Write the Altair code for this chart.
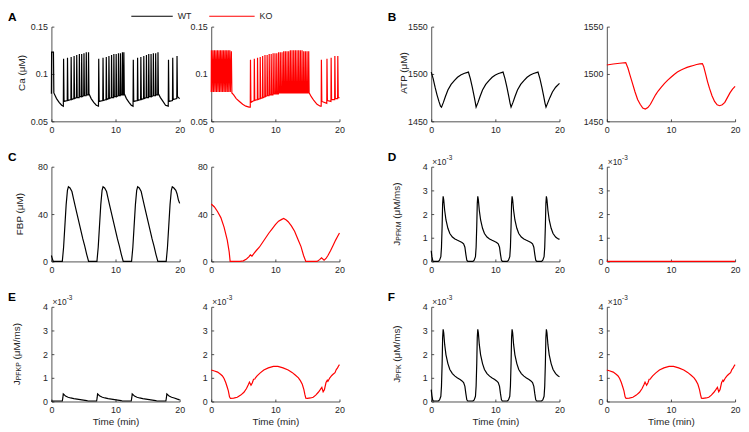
import altair as alt
import pandas as pd

# ---------------- data ----------------
time_ticks = [0, 10, 20]
ca_ticks = [0.05, 0.1, 0.15]
atp_ticks = [1450, 1500, 1550]
fbp_ticks = [0, 40, 80]
j_ticks = [0, 1, 2, 3, 4]

ca_wt = [
    (0.00, 0.079), (0.03, 0.123), (0.32, 0.123), (0.38, 0.080),
    (0.80, 0.074), (1.20, 0.070), (1.60, 0.067), (1.86, 0.066),
    (1.90, 0.116), (1.97, 0.071), (2.47, 0.072),
    (2.51, 0.117), (2.58, 0.072), (3.04, 0.073),
    (3.08, 0.118), (3.15, 0.073), (3.50, 0.074),
    (3.54, 0.119), (3.61, 0.074), (3.91, 0.075),
    (3.95, 0.120), (4.02, 0.075), (4.32, 0.075),
    (4.36, 0.121), (4.43, 0.076), (4.68, 0.076),
    (4.72, 0.121), (4.79, 0.076), (5.04, 0.077),
    (5.08, 0.122), (5.15, 0.077), (5.40, 0.077),
    (5.44, 0.123), (5.51, 0.078), (5.75, 0.078),
    (5.79, 0.123), (5.86, 0.079),
    (6.20, 0.074), (6.60, 0.070), (7.00, 0.067), (7.34, 0.066),
    (7.38, 0.116), (7.45, 0.071), (8.01, 0.072),
    (8.05, 0.117), (8.12, 0.072), (8.52, 0.073),
    (8.56, 0.118), (8.63, 0.073), (8.93, 0.074),
    (8.97, 0.119), (9.04, 0.074), (9.34, 0.075),
    (9.38, 0.120), (9.45, 0.075), (9.70, 0.075),
    (9.74, 0.121), (9.81, 0.076), (10.06, 0.076),
    (10.10, 0.121), (10.17, 0.076), (10.42, 0.077),
    (10.46, 0.122), (10.53, 0.077), (10.73, 0.077),
    (10.77, 0.122), (10.84, 0.078), (11.04, 0.078),
    (11.08, 0.123), (11.15, 0.078), (11.26, 0.078),
    (11.30, 0.123), (11.37, 0.079),
    (11.70, 0.074), (12.10, 0.070), (12.45, 0.067), (12.73, 0.066),
    (12.77, 0.115), (12.84, 0.071), (13.40, 0.072),
    (13.44, 0.117), (13.51, 0.072), (13.91, 0.073),
    (13.95, 0.118), (14.02, 0.073), (14.37, 0.074),
    (14.41, 0.119), (14.48, 0.074), (14.78, 0.075),
    (14.82, 0.120), (14.89, 0.075), (15.14, 0.075),
    (15.18, 0.121), (15.25, 0.076), (15.50, 0.076),
    (15.54, 0.121), (15.61, 0.076), (15.86, 0.077),
    (15.90, 0.122), (15.97, 0.077), (16.22, 0.077),
    (16.26, 0.122), (16.33, 0.078), (16.58, 0.078),
    (16.62, 0.123), (16.69, 0.079),
    (17.00, 0.075), (17.40, 0.071), (17.80, 0.067), (18.22, 0.066),
    (18.26, 0.115), (18.33, 0.071), (18.88, 0.072),
    (18.92, 0.117), (18.99, 0.073), (19.55, 0.074),
    (19.59, 0.119), (19.66, 0.076), (20.00, 0.074),
]

ca_ko = [
    (0.00, 0.081), (0.02, 0.125), (0.10, 0.081),
    (0.26, 0.125), (0.34, 0.081), (0.50, 0.125), (0.58, 0.081),
    (0.74, 0.125), (0.82, 0.081), (0.98, 0.125), (1.06, 0.081),
    (1.22, 0.125), (1.30, 0.081), (1.46, 0.125), (1.54, 0.081),
    (1.70, 0.125), (1.78, 0.081), (1.94, 0.125), (2.02, 0.081),
    (2.18, 0.125), (2.26, 0.081), (2.42, 0.125), (2.50, 0.081),
    (2.66, 0.125), (2.74, 0.081), (2.90, 0.125), (2.98, 0.081),
    (3.14, 0.124), (3.22, 0.080),
    (3.50, 0.078), (3.90, 0.074), (4.40, 0.071), (4.90, 0.068),
    (5.40, 0.066), (5.90, 0.065), (6.09, 0.065),
    (6.12, 0.115), (6.19, 0.070), (6.69, 0.072),
    (6.72, 0.116), (6.79, 0.072), (7.19, 0.073),
    (7.22, 0.117), (7.29, 0.073), (7.61, 0.074),
    (7.64, 0.118), (7.71, 0.074), (7.99, 0.075),
    (8.02, 0.119), (8.09, 0.075), (8.35, 0.076),
    (8.38, 0.120), (8.45, 0.076), (8.69, 0.077),
    (8.72, 0.120), (8.79, 0.077), (9.01, 0.077),
    (9.04, 0.121), (9.11, 0.078), (9.32, 0.078),
    (9.35, 0.121), (9.42, 0.078), (9.62, 0.078),
    (9.65, 0.122), (9.72, 0.079), (9.91, 0.079),
    (9.94, 0.122), (10.01, 0.079), (10.19, 0.079),
    (10.22, 0.122), (10.29, 0.079), (10.47, 0.079),
    (10.50, 0.123), (10.57, 0.080), (10.74, 0.080),
    (10.77, 0.123), (10.84, 0.080), (11.01, 0.080),
    (11.04, 0.123), (11.11, 0.080), (11.27, 0.080),
    (11.30, 0.124), (11.37, 0.080), (11.53, 0.080),
    (11.56, 0.124), (11.63, 0.080), (11.79, 0.080),
    (11.82, 0.124), (11.89, 0.080), (12.05, 0.080),
    (12.08, 0.124), (12.15, 0.080), (12.31, 0.080),
    (12.34, 0.125), (12.41, 0.080), (12.57, 0.080),
    (12.60, 0.125), (12.67, 0.080), (12.83, 0.080),
    (12.86, 0.125), (12.93, 0.080), (13.09, 0.080),
    (13.12, 0.125), (13.19, 0.080), (13.35, 0.080),
    (13.38, 0.125), (13.45, 0.080), (13.61, 0.080),
    (13.64, 0.125), (13.71, 0.080), (13.87, 0.080),
    (13.90, 0.125), (13.97, 0.080), (14.13, 0.080),
    (14.16, 0.125), (14.23, 0.080), (14.39, 0.080),
    (14.42, 0.124), (14.49, 0.080), (14.65, 0.080),
    (14.68, 0.124), (14.75, 0.080), (14.91, 0.080),
    (14.94, 0.124), (15.01, 0.080), (15.17, 0.080),
    (15.20, 0.124), (15.27, 0.080),
    (15.60, 0.076), (16.00, 0.072), (16.50, 0.068), (17.00, 0.066), (17.15, 0.066),
    (17.18, 0.115), (17.25, 0.071), (18.02, 0.069),
    (18.05, 0.116), (18.12, 0.072), (18.67, 0.071),
    (18.70, 0.117), (18.77, 0.073), (19.25, 0.073),
    (19.28, 0.119), (19.35, 0.074), (19.71, 0.074),
    (19.74, 0.119), (19.81, 0.075), (20.00, 0.075),
]

atp_wt = [
    (0.0, 1502), (0.3, 1495), (0.6, 1486), (0.9, 1478), (1.2, 1471), (1.45, 1466), (1.6, 1465),
    (1.9, 1470), (2.2, 1476), (2.6, 1483), (3.1, 1489), (3.6, 1493), (4.1, 1496.5),
    (4.6, 1499), (5.1, 1500.5), (5.8, 1502),
    (6.1, 1495), (6.4, 1486), (6.7, 1476), (6.9, 1469), (7.0, 1465),
    (7.3, 1470), (7.6, 1476), (8.0, 1483), (8.5, 1489), (9.0, 1493), (9.5, 1496.5),
    (10.0, 1499), (10.5, 1500.5), (11.2, 1502),
    (11.5, 1495), (11.8, 1486), (12.1, 1476), (12.3, 1469), (12.45, 1465),
    (12.75, 1470), (13.05, 1476), (13.45, 1483), (13.95, 1489), (14.45, 1493), (14.95, 1496.5),
    (15.45, 1499), (15.95, 1500.5), (16.65, 1502),
    (16.95, 1495), (17.25, 1486), (17.55, 1476), (17.75, 1469), (17.9, 1465),
    (18.2, 1470), (18.5, 1475), (18.9, 1481), (19.4, 1486), (20.0, 1490),
]

atp_ko = [
    (0.0, 1509.5), (1.0, 1510.5), (2.0, 1511.3), (2.95, 1512), (3.1, 1509.5), (3.3, 1506),
    (3.6, 1499), (4.0, 1490), (4.4, 1481), (4.8, 1473), (5.2, 1468), (5.6, 1464),
    (6.0, 1463), (6.4, 1464.5), (6.8, 1468), (7.2, 1473), (7.6, 1478), (8.0, 1482),
    (8.5, 1486), (9.0, 1490), (9.5, 1493.5), (10.0, 1496.5), (10.5, 1499.5), (11.0, 1502),
    (11.5, 1504), (12.0, 1505.5), (12.5, 1507), (13.0, 1508), (13.5, 1509), (14.0, 1510),
    (14.5, 1510.7), (14.9, 1511), (15.1, 1508), (15.4, 1500), (15.7, 1492), (16.0, 1485),
    (16.4, 1477), (16.8, 1471), (17.2, 1467.5), (17.6, 1466.5), (18.0, 1467.5), (18.4, 1470),
    (18.8, 1475), (19.2, 1480), (19.6, 1484), (20.0, 1487),
]

fbp_wt = [
    (0.0, 5), (0.15, 2), (0.3, 0), (1.7, 0), (1.9, 12), (2.1, 30), (2.3, 48), (2.5, 60),
    (2.65, 63), (2.9, 62), (3.2, 59), (3.4, 54), (3.7, 47), (4.0, 40), (4.3, 33), (4.6, 26),
    (4.9, 19), (5.2, 13), (5.5, 6), (5.8, 0),
    (7.1, 0), (7.3, 12), (7.5, 30), (7.7, 48), (7.9, 60), (8.05, 63), (8.3, 62), (8.6, 59),
    (8.8, 54), (9.1, 47), (9.4, 40), (9.7, 33), (10.0, 26), (10.3, 19), (10.6, 13), (10.9, 6),
    (11.2, 0),
    (12.5, 0), (12.7, 12), (12.9, 30), (13.1, 48), (13.3, 60), (13.45, 63), (13.7, 62),
    (14.0, 59), (14.2, 54), (14.5, 47), (14.8, 40), (15.1, 33), (15.4, 26), (15.7, 19),
    (16.0, 13), (16.3, 6), (16.6, 0),
    (17.9, 0), (18.1, 12), (18.3, 30), (18.5, 48), (18.7, 60), (18.85, 63), (19.1, 62),
    (19.4, 60), (19.6, 57), (19.8, 52), (20.0, 49),
]

fbp_ko = [
    (0.0, 48.5), (0.5, 46), (1.0, 42), (1.5, 37), (2.0, 29), (2.5, 18), (2.8, 8), (2.95, 0),
    (4.5, 0), (5.0, 0.5), (5.5, 2), (5.9, 4), (6.1, 5.5), (6.35, 4.5), (6.7, 7), (7.0, 9),
    (7.5, 12), (8.0, 16), (8.5, 20), (9.0, 24), (9.5, 27.5), (10.0, 31), (10.5, 34),
    (11.0, 35.5), (11.3, 36.3), (11.7, 35), (12.0, 33.5), (12.5, 30), (13.0, 25.5),
    (13.5, 19), (14.0, 12.5), (14.4, 5), (14.75, 0), (16.5, 0), (16.9, 1.5), (17.2, 3),
    (17.6, 1), (17.9, 2.5), (18.2, 5), (18.6, 9), (19.0, 13.5), (19.4, 18), (19.7, 21),
    (20.0, 24),
]

# fluxes, in units of 1e-3 uM/ms
jpfkm_wt_e3 = [
    (0.0, 0.45), (0.1, 0.2), (0.25, 0.02), (0.4, 0), (1.1, 0), (1.3, 0.05), (1.5, 0.2),
    (1.6, 0.6), (1.7, 1.5), (1.78, 2.45), (1.86, 2.75), (1.95, 2.6), (2.1, 2.15), (2.3, 1.75),
    (2.6, 1.4), (2.9, 1.18), (3.3, 1.03), (3.7, 0.95), (4.1, 0.89), (4.5, 0.84), (4.8, 0.8),
    (5.05, 0.74), (5.25, 0.6), (5.4, 0.3), (5.55, 0.05), (5.7, 0),
    (6.5, 0), (6.7, 0.05), (6.9, 0.2), (7.0, 0.6), (7.1, 1.5), (7.18, 2.45), (7.26, 2.75),
    (7.35, 2.6), (7.5, 2.15), (7.7, 1.75), (8.0, 1.4), (8.3, 1.18), (8.7, 1.03), (9.1, 0.95),
    (9.5, 0.89), (9.9, 0.84), (10.2, 0.8), (10.45, 0.74), (10.65, 0.6), (10.8, 0.3),
    (10.95, 0.05), (11.1, 0),
    (11.85, 0), (12.05, 0.05), (12.25, 0.2), (12.35, 0.6), (12.45, 1.5), (12.53, 2.45),
    (12.61, 2.75), (12.7, 2.6), (12.85, 2.15), (13.05, 1.75), (13.35, 1.4), (13.65, 1.18),
    (14.05, 1.03), (14.45, 0.95), (14.85, 0.89), (15.25, 0.84), (15.55, 0.8), (15.8, 0.74),
    (16.0, 0.6), (16.15, 0.3), (16.3, 0.05), (16.45, 0),
    (17.2, 0), (17.4, 0.05), (17.6, 0.2), (17.7, 0.6), (17.8, 1.5), (17.88, 2.45),
    (17.96, 2.75), (18.05, 2.6), (18.2, 2.15), (18.4, 1.75), (18.7, 1.4), (19.0, 1.18),
    (19.4, 1.03), (19.7, 0.97), (20.0, 0.93),
]
jpfkm_ko_e3 = [(0.0, 0.0), (20.0, 0.0)]

jpfkp_wt_e3 = [
    (0.0, 0.02), (1.7, 0.02), (1.78, 0.15), (1.85, 0.32), (1.95, 0.3), (2.2, 0.23),
    (2.6, 0.18), (3.0, 0.15), (3.5, 0.12), (4.0, 0.1), (4.5, 0.08), (5.0, 0.06),
    (5.5, 0.04), (5.7, 0.02),
    (7.05, 0.02), (7.13, 0.15), (7.2, 0.32), (7.3, 0.3), (7.55, 0.23), (7.95, 0.18),
    (8.35, 0.15), (8.85, 0.12), (9.35, 0.1), (9.85, 0.08), (10.35, 0.06), (10.85, 0.04),
    (11.05, 0.02),
    (12.45, 0.02), (12.53, 0.15), (12.6, 0.32), (12.7, 0.3), (12.95, 0.23), (13.35, 0.18),
    (13.75, 0.15), (14.25, 0.12), (14.75, 0.1), (15.25, 0.08), (15.75, 0.06), (16.25, 0.04),
    (16.45, 0.02),
    (17.85, 0.02), (17.93, 0.15), (18.0, 0.32), (18.1, 0.3), (18.35, 0.23), (18.75, 0.18),
    (19.15, 0.15), (19.65, 0.1), (20.0, 0.07),
]

jpfkp_ko_e3 = [
    (0.0, 1.33), (0.5, 1.29), (1.0, 1.24), (1.5, 1.14), (1.75, 1.08), (2.0, 0.97),
    (2.26, 0.8), (2.5, 0.6), (2.67, 0.45), (2.85, 0.2), (3.0, 0.13), (3.5, 0.14),
    (4.06, 0.18), (4.6, 0.27), (5.1, 0.39), (5.5, 0.55), (5.8, 0.72), (5.96, 0.82),
    (6.2, 0.69), (6.4, 0.78), (6.6, 0.94), (6.8, 0.95), (6.9, 1.0), (7.15, 1.08),
    (7.6, 1.2), (8.2, 1.33), (8.9, 1.42), (9.7, 1.48), (10.4, 1.48), (11.2, 1.42),
    (12.0, 1.33), (12.6, 1.23), (13.1, 1.12), (13.6, 1.0), (13.9, 0.88), (14.2, 0.73),
    (14.45, 0.5), (14.6, 0.3), (14.75, 0.14), (15.0, 0.13), (15.5, 0.15), (15.9, 0.18),
    (16.3, 0.27), (16.7, 0.39), (17.0, 0.5), (17.25, 0.6), (17.45, 0.41), (17.65, 0.5),
    (17.9, 0.8), (18.1, 0.9), (18.2, 0.85), (18.5, 1.0), (18.8, 1.1), (19.0, 1.15),
    (19.3, 1.22), (19.5, 1.35), (19.7, 1.42), (19.85, 1.5), (20.0, 1.56),
]

jpfk_wt_e3 = [
    (0.0, 0.5), (0.1, 0.25), (0.25, 0.04), (0.4, 0.02), (1.1, 0.02), (1.3, 0.07), (1.5, 0.22),
    (1.6, 0.65), (1.7, 1.6), (1.78, 2.7), (1.86, 3.05), (1.95, 2.9), (2.1, 2.4), (2.3, 1.97),
    (2.6, 1.6), (2.9, 1.35), (3.3, 1.18), (3.7, 1.07), (4.1, 0.99), (4.5, 0.93), (4.8, 0.87),
    (5.05, 0.8), (5.25, 0.64), (5.4, 0.33), (5.55, 0.07), (5.7, 0.02),
    (6.5, 0.02), (6.7, 0.07), (6.9, 0.22), (7.0, 0.65), (7.1, 1.6), (7.18, 2.7), (7.26, 3.05),
    (7.35, 2.9), (7.5, 2.4), (7.7, 1.97), (8.0, 1.6), (8.3, 1.35), (8.7, 1.18), (9.1, 1.07),
    (9.5, 0.99), (9.9, 0.93), (10.2, 0.87), (10.45, 0.8), (10.65, 0.64), (10.8, 0.33),
    (10.95, 0.07), (11.1, 0.02),
    (11.85, 0.02), (12.05, 0.07), (12.25, 0.22), (12.35, 0.65), (12.45, 1.6), (12.53, 2.7),
    (12.61, 3.05), (12.7, 2.9), (12.85, 2.4), (13.05, 1.97), (13.35, 1.6), (13.65, 1.35),
    (14.05, 1.18), (14.45, 1.07), (14.85, 0.99), (15.25, 0.93), (15.55, 0.87), (15.8, 0.8),
    (16.0, 0.64), (16.15, 0.33), (16.3, 0.07), (16.45, 0.02),
    (17.2, 0.02), (17.4, 0.07), (17.6, 0.22), (17.7, 0.65), (17.8, 1.6), (17.88, 2.7),
    (17.96, 3.05), (18.05, 2.9), (18.2, 2.4), (18.4, 1.97), (18.7, 1.6), (19.0, 1.35),
    (19.4, 1.18), (19.7, 1.1), (20.0, 1.04),
]

jpfk_ko_e3 = list(jpfkp_ko_e3)  # PFKM flux is zero in the KO, so total = PFKP

# ---------------- styling ----------------
FONT = "Liberation Sans"
INK = "#262626"
BLACK = "#000000"
RED = "#ff0000"
W, H = 130, 96


def txt(s, x, y, size=10, angle=None, align="left", baseline="middle",
        weight="normal", color=INK):
    kw = dict(align=align, baseline=baseline, fontSize=size, font=FONT,
              fontWeight=weight, color=color)
    if angle is not None:
        kw["angle"] = angle
    return alt.Chart(pd.DataFrame({"s": [s]})).mark_text(**kw).encode(
        x=alt.value(x), y=alt.value(y), text="s:N")


def rule(x1, x2, y, color):
    return alt.Chart(pd.DataFrame({"s": [0]})).mark_rule(
        color=color, strokeWidth=1.2).encode(
        x=alt.value(x1), x2=alt.value(x2), y=alt.value(y))


def axis(values, fmt, dash, title=None):
    kw = dict(values=values, format=fmt, title=title, ticks=False, tickSize=0,
              domainColor=INK, domainWidth=0.8, labelFont=FONT, labelFontSize=9,
              labelColor=INK, labelPadding=4, labelFlush=False, labelOverlap=False,
              grid=True, gridDash=dash, gridColor=INK, gridWidth=0.8,
              gridOpacity=1, zindex=0)
    if title is not None:
        kw.update(titleFont=FONT, titleFontSize=10, titleFontWeight="normal",
                  titleColor=INK, titlePadding=2)
    return alt.Axis(**kw)


X_TICK_DASH = [0, H - 2.5, 2.5, 3000]   # short inward tick at the bottom edge
Y_TICK_DASH = [2.5, 3000]               # short inward tick at the left edge


def ytitle_simple(s, x, y=48):
    return [txt(s, x, y, size=10, angle=270, align="center")]


def ytitle_j(sub, sub_w, x=-35):
    j_w, gap_w, rest_w = 5.0, 2.8, 36.8
    total = j_w + sub_w + gap_w + rest_w
    y0 = 48 + total / 2
    return [
        txt("J", x, y0, size=10, angle=270),
        txt(sub, x + 2.5, y0 - j_w, size=7, angle=270),
        txt("(\u03bcM/ms)", x, y0 - j_w - sub_w - gap_w, size=10, angle=270),
    ]


def times_e3():
    return [txt("\u00d710", 1, -2, size=8.5, baseline="alphabetic"),
            txt("-3", 15.5, -6.5, size=6.5, baseline="alphabetic")]


def panel(points, color, ydom, yticks, yfmt, bottom, extras):
    df = pd.DataFrame(points, columns=["t", "v"])
    line = alt.Chart(df).mark_line(color=color, strokeWidth=1.2).encode(
        x=alt.X("t:Q", scale=alt.Scale(domain=[0, 20], nice=False),
                axis=axis(time_ticks, "d", X_TICK_DASH,
                          "Time (min)" if bottom else None)),
        y=alt.Y("v:Q", scale=alt.Scale(domain=ydom, nice=False, zero=False),
                axis=axis(yticks, yfmt, Y_TICK_DASH)),
    )
    return alt.layer(line, *extras).properties(width=W, height=H)


def spacer(w):
    return alt.Chart(pd.DataFrame({"s": [0]})).mark_point(opacity=0, size=0).encode(
        x=alt.value(0), y=alt.value(0)).properties(width=w, height=H)


def label(ch):
    return txt(ch, -44, -15, size=12, baseline="top", weight="bold", color=BLACK)


legend = [rule(81, 123, -10.5, BLACK), txt("WT", 128, -10.5, size=9, color=INK),
          rule(160, 206, -10.5, RED), txt("KO", 211, -10.5, size=9, color=INK)]

ca_dom, atp_dom, fbp_dom, j_dom = [0.05, 0.15], [1450, 1550], [0, 80], [0, 4]

row1 = [
    panel(ca_wt, BLACK, ca_dom, ca_ticks, ".2~g", False,
          [label("A")] + ytitle_simple("Ca (\u03bcM)", -29.5, 47) + legend),
    spacer(32),
    panel(ca_ko, RED, ca_dom, ca_ticks, ".2~g", False, []),
    spacer(93),
    panel(atp_wt, BLACK, atp_dom, atp_ticks, "d", False,
          [label("B")] + ytitle_simple("ATP (\u03bcM)", -28, 47)),
    spacer(48),
    panel(atp_ko, RED, atp_dom, atp_ticks, "d", False, []),
]
row2 = [
    panel(fbp_wt, BLACK, fbp_dom, fbp_ticks, "d", False,
          [label("C")] + ytitle_simple("FBP (\u03bcM)", -31.5, 48)),
    spacer(32),
    panel(fbp_ko, RED, fbp_dom, fbp_ticks, "d", False, []),
    spacer(93),
    panel(jpfkm_wt_e3, BLACK, j_dom, j_ticks, "d", False,
          [label("D")] + ytitle_j("PFKM", 19.4) + times_e3()),
    spacer(48),
    panel(jpfkm_ko_e3, RED, j_dom, j_ticks, "d", False, times_e3()),
]
row3 = [
    panel(jpfkp_wt_e3, BLACK, j_dom, j_ticks, "d", True,
          [label("E")] + ytitle_j("PFKP", 18.3) + times_e3()),
    spacer(32),
    panel(jpfkp_ko_e3, RED, j_dom, j_ticks, "d", True, times_e3()),
    spacer(93),
    panel(jpfk_wt_e3, BLACK, j_dom, j_ticks, "d", True,
          [label("F")] + ytitle_j("PFK", 13.6) + times_e3()),
    spacer(48),
    panel(jpfk_ko_e3, RED, j_dom, j_ticks, "d", True, times_e3()),
]

chart = alt.concat(*(row1 + row2 + row3), columns=7,
                   spacing={"row": 46, "column": 0}, bounds="flush").properties(
    padding=0, background="white").configure_view(strokeWidth=0)

chart.save("out.html", embed_options={"renderer": "svg", "actions": False})
